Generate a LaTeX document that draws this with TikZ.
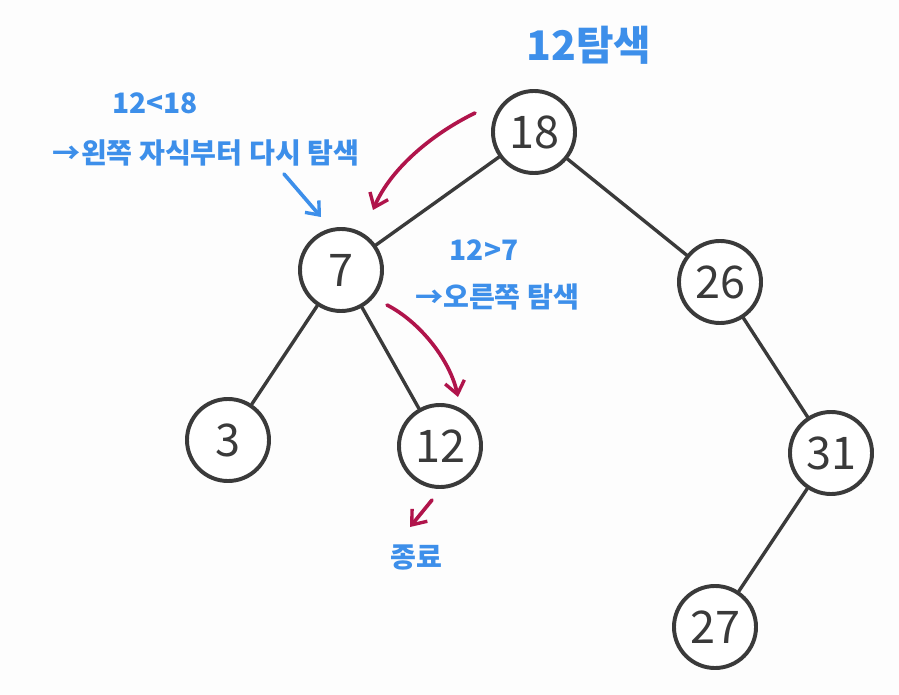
\documentclass[tikz,border=0pt]{standalone}
\usepackage{fontspec}
\setmainfont{Noto Sans CJK KR}
\usepackage{xcolor}
\definecolor{pencil}{HTML}{3A3A3A}
\definecolor{crayon}{HTML}{3D8FEA}
\definecolor{berry}{HTML}{B0144B}
\definecolor{paper}{HTML}{FDFDFD}
\usetikzlibrary{arrows.meta,positioning}
\tikzset{
  key/.style={circle,draw=pencil,line width=2.8pt,fill=white,minimum size=2.05cm,
              inner sep=0pt,text=pencil,font=\fontsize{32}{34}\selectfont},
  twig/.style={draw=pencil,line width=2.4pt,line cap=round},
  hint/.style={-{Straight Barb[length=9pt,width=14pt,line width=2.4pt]},draw=berry,
               line width=2.6pt,line cap=round},
  cue/.style={-{Straight Barb[length=8pt,width=13pt,line width=2.4pt]},draw=crayon,
              line width=2.6pt,line cap=round},
  note/.style={text=crayon,font=\bfseries\fontsize{20}{22}\selectfont,inner sep=1pt},
  headline/.style={note,font=\bfseries\fontsize{29}{31}\selectfont},
}

\begin{document}
\begin{tikzpicture}[x=0.025cm,y=-0.025cm]
  \fill[paper] (0,0) rectangle (899,695);
  \useasboundingbox (0,0) rectangle (899,695);

  % tree
  \node[key] (n18) at (534,132) {18};
  \node[key] (n7)  at (341,270) {7};
  \node[key] (n26) at (720,282) {26};
  \node[key] (n3)  at (228,440) {3};
  \node[key] (n12) at (440,446) {12};
  \node[key] (n31) at (831,453) {31};
  \node[key] (n27) at (715,627) {27};
  \draw[twig] (n18) -- (n7);
  \draw[twig] (n18) -- (n26);
  \draw[twig] (n7) -- (n3);
  \draw[twig] (n7) -- (n12);
  \draw[twig] (n26) -- (n31);
  \draw[twig] (n31) -- (n27);

  % search notes
  \node[headline] (goal) at (589,45) {12탐색};
  \node[note] (lt) at (155,103) {12<18};
  \node[note] (goleft) at (206,153) {→왼쪽 자식부터 다시 탐색};
  \node[note] (gt) at (484,250) {12>7};
  \node[note] (goright) at (497,297) {→오른쪽 탐색};
  \node[note] (stop) at (416,557) {종료};

  % search path
  \coordinate (p1) at (475,113);
  \coordinate (q1) at (373,210);
  \draw[hint] (p1) .. controls (430,135) and (390,170) .. (q1);
  \coordinate (p2) at (387,305);
  \coordinate (q2) at (458,397);
  \draw[hint] (p2) .. controls (420,322) and (450,360) .. (q2);
  \coordinate (p3) at (432,500);
  \coordinate (q3) at (410,527);
  \draw[hint] (p3) -- (q3);
  \coordinate (p0) at (284,174);
  \coordinate (q0) at (321,217);
  \draw[cue] (p0) -- (q0);
\end{tikzpicture}
\end{document}
